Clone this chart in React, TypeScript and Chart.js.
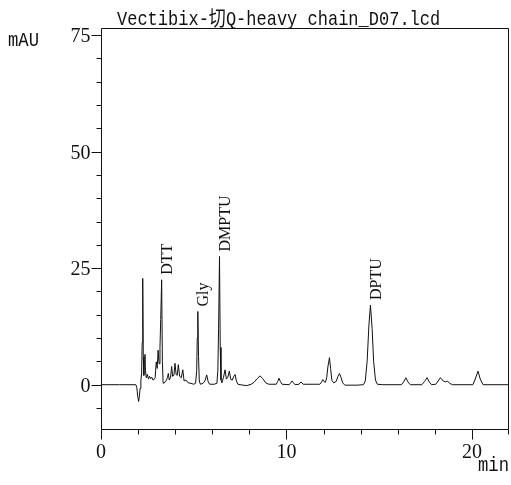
import React, { useEffect, useRef } from "react";
import { Chart, registerables } from "chart.js";

Chart.register(...registerables);

// Retention time (min)
const times = [
  0, 1.0, 1.88, 1.93, 1.98, 2.03, 2.07, 2.11, 2.15, 2.19,
  2.22, 2.25, 2.28, 2.31, 2.34, 2.37, 2.4, 2.44, 2.5, 2.56,
  2.62, 2.68, 2.74, 2.8, 2.86, 2.92, 2.98, 3.03, 3.08, 3.13,
  3.18, 3.22, 3.27, 3.31, 3.35, 3.45, 3.52, 3.58, 3.63, 3.68,
  3.75, 3.81, 3.86, 3.93, 3.99, 4.05, 4.11, 4.17, 4.24, 4.33,
  4.41, 4.48, 4.58, 4.7, 4.85, 5.0, 5.1, 5.16, 5.19, 5.22,
  5.26, 5.3, 5.36, 5.5, 5.6, 5.7, 5.78, 5.86, 6.1, 6.25,
  6.3, 6.34, 6.39, 6.43, 6.47, 6.52, 6.6, 6.69, 6.76, 6.84,
  6.92, 7.0, 7.08, 7.16, 7.23, 7.3, 7.38, 7.5,
  7.86, 8.1, 8.25, 8.42, 8.58, 8.72, 8.88, 9.05, 9.45, 9.53,
  9.6, 9.67, 9.76, 10.15, 10.23, 10.3, 10.38, 10.46, 10.68, 10.79,
  10.9, 11.8, 11.9, 11.96, 12.02, 12.1, 12.17, 12.24, 12.32, 12.38,
  12.45, 12.55, 12.68, 12.78, 12.86, 12.94, 13.03, 13.15, 13.8, 14.15,
  14.25, 14.35, 14.45, 14.53, 14.62, 14.7, 14.8, 14.9, 15.2, 16.2,
  16.32, 16.44, 16.55, 16.68, 17.3, 17.45, 17.58, 17.7, 17.82, 18.05,
  18.18, 18.3, 18.45, 18.58, 18.68, 18.8, 18.95, 20.05, 20.18, 20.33,
  20.45, 20.6, 22,
];

// Absorbance (mAU)
const mAU = [
  0, 0, 0, -0.6, -2.5, -3.6, -2.4, -0.8, 0.8, 2.5,
  9, 22.8, 6, 2, 5, 6.5, 3, 1.5, 2.2, 1.2,
  1.8, 1.3, 1.6, 1, 1.1, 1.5, 4.9, 3.5, 7.4, 4.5,
  8, 14, 22.5, 5, 0.3, 0.5, 0.9, 1.5, 2.4, 1,
  1.5, 3.9, 1.8, 2, 4.6, 2.2, 2, 4.3, 1.8, 1.5,
  3.2, 0.8, 1, 0.4, 0.3, 0.1, 0.3, 3, 10, 15.7,
  6, 0.8, 0.1, 0.3, 0.8, 2.1, 0.6, 0.1, 0.1, 0.3,
  3, 12, 27.5, 8, 1, 0.4, 1.5, 3.2, 1.2, 1.6,
  2.9, 1.1, 1, 1.8, 2.2, 0.8, 0.1, 0,
  -0.2, 0.1, 0.5, 1.3, 1.9, 1.3, 0.4, 0.1, 0.1, 0.7,
  1.4, 0.7, 0.1, 0, 0.4, 0.8, 0.4, 0, 0.1, 0.6,
  0.1, 0.1, 0.6, 1.1, 0.7, 0.5, 1.5, 4, 5.8, 3.5,
  0.9, 0.4, 0.7, 1.8, 2.4, 1.6, 0.4, -0.1, -0.1, 0,
  0.8, 5, 13, 17.1, 12, 5, 1, 0.1, 0, 0,
  0.6, 1.5, 0.6, 0, 0, 0.7, 1.5, 0.6, 0, 0.1,
  0.8, 1.5, 0.8, 0.6, 0.8, 0.3, 0, 0, 1.2, 2.9,
  1.2, 0, 0,
];

const yMajorTicks = [0, 25, 50, 75];
const yMinorTicks = [-5, 5, 10, 15, 20, 30, 35, 40, 45, 55, 60, 65, 70];
const xMajorTicks = [0, 10, 20];
const xMinorTicks = [2, 4, 6, 8, 12, 14, 16, 18, 22];

const peakNames = ["DTT", "Gly", "DMPTU", "DPTU"];
const peakTimes = [3.27, 5.22, 6.39, 14.53];
const peakHeights = [22.5, 15.7, 27.5, 17.1];

const titleText = "Vectibix-切Q-heavy chain_D07.lcd";
const yUnit = "mAU";
const xUnit = "min";

const MONO = "'Liberation Mono', 'Noto Sans CJK SC', monospace";
const SERIF = "'Liberation Serif', 'DejaVu Serif', serif";

const decorPlugin = {
  id: "decor",
  afterDraw(chart: any) {
    const { ctx, chartArea: a, scales } = chart;
    const x = scales.x;
    const y = scales.y;
    ctx.save();
    ctx.strokeStyle = "#111";
    ctx.fillStyle = "#111";
    ctx.lineWidth = 1;

    const L = Math.round(a.left) + 0.5;
    const R = Math.round(a.right) - 0.5;
    const T = Math.round(a.top) + 0.5;
    const B = Math.round(a.bottom) + 0.5;
    ctx.beginPath();
    ctx.rect(L, T, R - L, B - T);
    ctx.stroke();

    // y ticks
    ctx.beginPath();
    yMajorTicks.forEach((v) => {
      const p = Math.round(y.getPixelForValue(v)) + 0.5;
      ctx.moveTo(L - 10, p);
      ctx.lineTo(L, p);
    });
    yMinorTicks.forEach((v) => {
      const p = Math.round(y.getPixelForValue(v)) + 0.5;
      ctx.moveTo(L - 5, p);
      ctx.lineTo(L, p);
    });
    // x ticks
    xMajorTicks.forEach((v) => {
      const p = Math.round(x.getPixelForValue(v)) + 0.5;
      ctx.moveTo(p, B);
      ctx.lineTo(p, B + 10);
    });
    xMinorTicks.forEach((v) => {
      const p = Math.min(Math.round(x.getPixelForValue(v)) + 0.5, R);
      ctx.moveTo(p, B);
      ctx.lineTo(p, B + 5);
    });
    ctx.stroke();

    // tick labels
    ctx.font = `20px ${SERIF}`;
    ctx.textBaseline = "alphabetic";
    ctx.textAlign = "right";
    yMajorTicks.forEach((v) => {
      const p = y.getPixelForValue(v);
      ctx.fillText(String(v), L - 11, p + 7);
    });
    ctx.textAlign = "center";
    xMajorTicks.forEach((v) => {
      const p = x.getPixelForValue(v);
      ctx.fillText(String(v), p, B + 28);
    });

    // compressed mono texts
    const drawMono = (text: string, px: number, py: number, size: number, sx: number, align: string) => {
      ctx.save();
      ctx.font = `${size}px ${MONO}`;
      ctx.textBaseline = "alphabetic";
      ctx.textAlign = align;
      ctx.translate(px, py);
      ctx.scale(sx, 1);
      ctx.fillText(text, 0, 0);
      ctx.restore();
    };
    drawMono(titleText, 117, 25, 21, 0.81, "left");
    drawMono(yUnit, 8, 46, 20, 0.86, "left");
    drawMono(xUnit, 509, 471, 20, 0.86, "right");

    // peak labels
    ctx.font = `16px ${SERIF}`;
    ctx.textAlign = "left";
    ctx.textBaseline = "top";
    peakNames.forEach((name, i) => {
      const px = x.getPixelForValue(peakTimes[i]);
      const py = y.getPixelForValue(peakHeights[i]);
      ctx.save();
      ctx.translate(px - 2, py - 5);
      ctx.rotate(-Math.PI / 2);
      ctx.fillText(name, 0, 0);
      ctx.restore();
    });

    ctx.restore();
  },
};

export default function App() {
  const canvasRef = useRef<HTMLCanvasElement | null>(null);

  useEffect(() => {
    if (!canvasRef.current) return;
    const chart = new Chart(canvasRef.current, {
      type: "line",
      data: {
        datasets: [
          {
            data: times.map((t, i) => ({ x: t, y: mAU[i] })),
            borderColor: "#111",
            borderWidth: 1,
            pointRadius: 0,
            tension: 0,
            borderJoinStyle: "round",
            fill: false,
          },
        ],
      },
      options: {
        animation: false,
        responsive: false,
        devicePixelRatio: 1,
        layout: { padding: { left: 101, top: 28, right: 2, bottom: 56 } },
        plugins: {
          legend: { display: false },
          tooltip: { enabled: false },
          title: { display: false },
        },
        scales: {
          x: { type: "linear", min: 0, max: 22, display: false },
          y: { type: "linear", min: -9.5, max: 76.5, display: false },
        },
      },
      plugins: [decorPlugin],
    } as any);
    return () => chart.destroy();
  }, []);

  return (
    <div style={{ position: "absolute", left: 0, top: 0, width: 511, height: 485, background: "#fff" }}>
      <canvas ref={canvasRef} width={511} height={485} />
    </div>
  );
}
